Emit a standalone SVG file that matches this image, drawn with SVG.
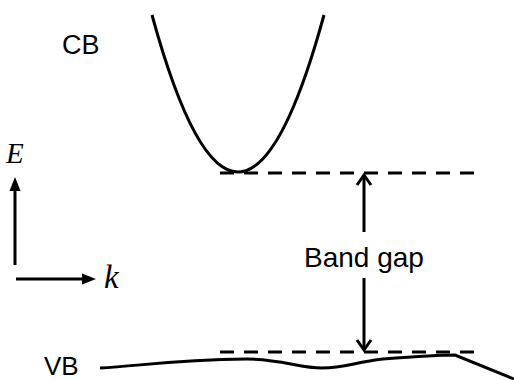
<svg xmlns="http://www.w3.org/2000/svg" width="514" height="380" viewBox="0 0 514 380">
<style>
.ln{fill:none;stroke:#000;stroke-width:3}
.dash{fill:none;stroke:#000;stroke-width:3;stroke-dasharray:14 10}
.lbl{font-family:"Liberation Sans",Arial,sans-serif;fill:#000}
.math{font-family:"Liberation Serif","Times New Roman",serif;font-style:italic;fill:#000}
</style>
<rect width="514" height="380" fill="#fff"/>
<g id="cb-band">
<path class="ln" d="M152,15 Q238,329 324,15"/>
<text class="lbl" x="62" y="54" font-size="27">CB</text>
</g>
<g id="vb-band">
<path class="ln" d="M100,368 C140,366 170,360 247,359 C280,359 300,368 322,368 C345,368 355,362 383,359 C410,357 440,355 455,355 L514,379"/>
<text class="lbl" x="44" y="375" font-size="26">VB</text>
</g>
<g id="axes">
<line class="ln" x1="15" y1="265" x2="15" y2="188"/>
<polygon points="15,177 9.5,191 20.5,191" fill="#000"/>
<line class="ln" x1="16" y1="279" x2="84" y2="279"/>
<polygon points="96,279 82,273.5 82,284.5" fill="#000"/>
<text class="math" x="6" y="163" font-size="29">E</text>
<text class="math" x="104" y="288" font-size="33">k</text>
</g>
<g id="connectors">
<line class="dash" x1="220" y1="173" x2="483" y2="173"/>
<line class="dash" x1="220" y1="352" x2="483" y2="352"/>
<line class="ln" x1="364" y1="175" x2="364" y2="232"/>
<polyline class="ln" points="357,185 364,175 371,185"/>
<line class="ln" x1="364" y1="278" x2="364" y2="350"/>
<polyline class="ln" points="357,340 364,350 371,340"/>
</g>
<g id="band-gap-label">
<text class="lbl" x="364" y="267" font-size="28" text-anchor="middle">Band gap</text>
</g>
</svg>
